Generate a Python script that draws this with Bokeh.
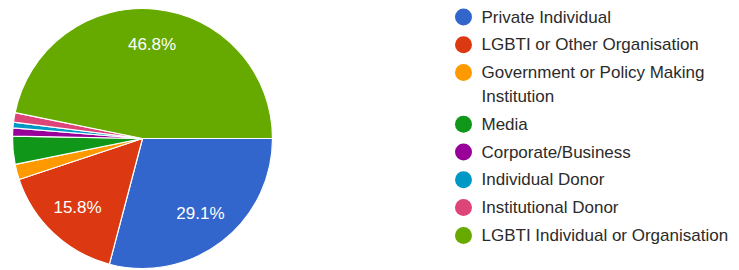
import numpy as np
from bokeh.plotting import figure
from bokeh.models import Range1d, ColumnDataSource
from bokeh.core.properties import value
from bokeh.embed import file_html
from bokeh.resources import INLINE

categories = ["Private Individual", "LGBTI or Other Organisation",
              "Government or Policy Making\nInstitution", "Media",
              "Corporate/Business", "Individual Donor", "Institutional Donor",
              "LGBTI Individual or Organisation"]
shares = [29.1, 15.8, 1.9, 3.5, 1.0, 0.7, 1.2, 46.8]
colors = ["#3366cc", "#dc3912", "#ff9900", "#109618",
          "#990099", "#0099c6", "#dd4477", "#66aa00"]
labels = ["29.1%", "15.8%", "", "", "", "", "", "46.8%"]

W, H = 739, 270
def sx(x):
    return x
def sy(y):
    return H - y

cx, cy, r = sx(142), sy(138), 130

p = figure(width=W, height=H, output_backend="svg", toolbar_location=None,
           x_range=Range1d(0, W), y_range=Range1d(0, H),
           x_axis_location=None, y_axis_location=None, min_border=0)
p.outline_line_color = None
p.grid.visible = False

vals = np.array(shares, dtype=float)
frac = vals / vals.sum()
cum = np.concatenate([[0], np.cumsum(frac)])
start = -cum[:-1] * 2 * np.pi
end = -cum[1:] * 2 * np.pi
mid = (start + end) / 2

src = ColumnDataSource(dict(start=start, end=end, color=colors))
p.wedge(x=cx, y=cy, radius=r, start_angle="start", end_angle="end",
        direction="clock", fill_color="color", line_color="white",
        line_width=1.2, source=src)

lr = 0.73 * r
lsrc = ColumnDataSource(dict(x=cx + lr * np.cos(mid), y=cy + lr * np.sin(mid), t=labels))
p.text(x="x", y="y", text="t", source=lsrc, text_color="white",
       text_font=value("Liberation Sans"), text_font_size="17px",
       text_align="center", text_baseline="middle")

# legend
y0, step, wrap = 16.5, 27.8, 23.8
cur = y0
mx, my, mc = [], [], []
tx, ty, tt = [], [], []
for name, col in zip(categories, colors):
    parts = name.split("\n")
    mx.append(sx(463)); my.append(sy(cur)); mc.append(col)
    for j, part in enumerate(parts):
        tx.append(sx(481)); ty.append(sy(cur + j * wrap)); tt.append(part)
    cur += step + (len(parts) - 1) * wrap

p.scatter(x=mx, y=my, color=mc, size=17, marker="circle", line_color=None)
p.text(x=tx, y=ty, text=tt, text_color="#2b2b2b",
       text_font=value("Liberation Sans"), text_font_size="17px",
       text_align="left", text_baseline="middle")

open("out.html", "w").write(file_html(p, INLINE))
